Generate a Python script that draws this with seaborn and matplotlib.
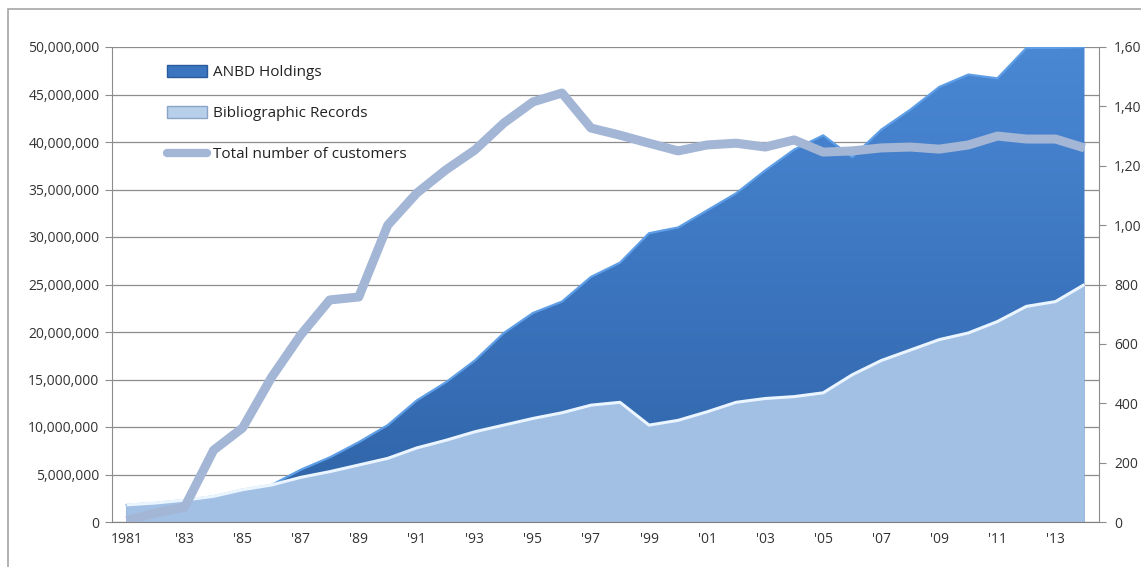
import numpy as np
import pandas as pd
import matplotlib
matplotlib.use("Agg")
import matplotlib.pyplot as plt
import seaborn as sns
from matplotlib.patches import Rectangle, Patch
from matplotlib.lines import Line2D
from matplotlib.ticker import FuncFormatter, MultipleLocator, FixedLocator
from matplotlib.colors import LinearSegmentedColormap

# ---------------- data ----------------
years = list(range(1981, 2015))
tick_labels = ["1981", "'83", "'85", "'87", "'89", "'91", "'93", "'95", "'97",
               "'99", "'01", "'03", "'05", "'07", "'09", "'11", "'13"]

bib_records = [1.8e6, 2.0e6, 2.3e6, 2.7e6, 3.4e6, 3.9e6, 4.7e6, 5.3e6, 6.0e6, 6.7e6,
               7.8e6, 8.6e6, 9.5e6, 10.2e6, 10.9e6, 11.5e6, 12.3e6, 12.6e6, 10.2e6, 10.7e6,
               11.6e6, 12.6e6, 13.0e6, 13.2e6, 13.6e6, 15.5e6, 17.0e6, 18.1e6, 19.2e6, 19.9e6,
               21.1e6, 22.7e6, 23.2e6, 25.0e6]

anbd_holdings = [1.8e6, 2.0e6, 2.3e6, 2.7e6, 3.4e6, 3.9e6, 5.5e6, 6.8e6, 8.4e6, 10.2e6,
                 12.8e6, 14.7e6, 17.0e6, 19.9e6, 22.0e6, 23.2e6, 25.8e6, 27.3e6, 30.4e6, 31.0e6,
                 32.8e6, 34.6e6, 37.0e6, 39.2e6, 40.7e6, 38.4e6, 41.3e6, 43.4e6, 45.8e6, 47.1e6,
                 46.7e6, 49.9e6, 49.9e6, 51.0e6]

customers = [5, 30, 50, 242, 317, 488, 630, 748, 758, 1000,
             1108, 1186, 1253, 1344, 1415, 1445, 1327, 1303, 1276, 1250,
             1270, 1276, 1263, 1287, 1246, 1250, 1260, 1263, 1256, 1270,
             1300, 1290, 1290, 1260]

df = pd.DataFrame({"year": years, "idx": np.arange(len(years)),
                   "anbd": anbd_holdings, "bib": bib_records, "cust": customers})

# ---------------- style ----------------
sns.set_style("white")
plt.rcParams["font.family"] = ["Open Sans", "DejaVu Sans"]

W, H = 1141, 567
fig = plt.figure(figsize=(W / 100, H / 100), dpi=100)
fig.patch.set_facecolor("white")

# outer chart frame (Excel chart area border)
fig.patches.append(Rectangle((8 / W, -0.1), 1.2, 1 - 9 / H + 0.1, transform=fig.transFigure,
                             fill=False, edgecolor="#A6A6A6", lw=1.2, zorder=0))

left, right, bottom, top = 112 / W, 1099 / W, 1 - 522 / H, 1 - 47 / H
ax = fig.add_axes([left, bottom, right - left, top - bottom])
ax.set_facecolor("none")

x = df["idx"].values
ymax = 50e6
ax.set_xlim(-0.5, 33.5)
ax.set_ylim(0, ymax)

# gridlines
ax.yaxis.set_major_locator(MultipleLocator(5e6))
ax.grid(axis="y", color="#8C8C8C", lw=0.9, zorder=0)
ax.grid(axis="x", visible=False)
ax.set_axisbelow(True)

# dark area (ANBD holdings) with vertical gradient
poly_dark = ax.fill_between(x, 0, np.minimum(df["anbd"].values, ymax), facecolor="none",
                            edgecolor="none", zorder=2)
grad = np.linspace(0, 1, 256).reshape(-1, 1)
cmap_dark = LinearSegmentedColormap.from_list("dk", ["#2F63A6", "#3C75BF", "#4A88D4"])
im = ax.imshow(grad, cmap=cmap_dark, aspect="auto", origin="lower",
               extent=(-0.5, 33.5, 0, ymax), zorder=2, interpolation="bicubic")
im.set_clip_path(poly_dark.get_paths()[0], transform=ax.transData)
ax.plot(x, np.minimum(df["anbd"].values, ymax), color="#5E9EE6", lw=1.6, zorder=3)

# light area (bibliographic records)
ax.fill_between(x, 0, df["bib"].values, facecolor="#A2BFE4", edgecolor="none", zorder=4)
ax.plot(x, df["bib"].values, color="#EAF5FF", lw=2.2, zorder=5, solid_capstyle="butt")

ax.set_xlim(-0.5, 33.5)
ax.set_ylim(0, ymax)

# axes styling
for s in ["top", "right"]:
    ax.spines[s].set_visible(False)
ax.spines["left"].set_color("#8C8C8C")
ax.spines["bottom"].set_color("#7F7F7F")
ax.spines["left"].set_zorder(6)
ax.spines["bottom"].set_zorder(6)

ax.yaxis.set_major_formatter(FuncFormatter(lambda v, p: f"{int(round(v)):,}"))
ax.tick_params(axis="y", which="major", direction="out", length=5, color="#8C8C8C",
               labelsize=10, labelcolor="#333333", pad=4)

ax.xaxis.set_major_locator(FixedLocator(np.arange(0, 34, 2)))
ax.set_xticklabels(tick_labels)
ax.xaxis.set_minor_locator(FixedLocator(np.arange(-0.5, 34, 1)))
ax.tick_params(axis="x", which="major", length=0, labelsize=10, labelcolor="#333333", pad=7)
ax.tick_params(axis="x", which="minor", direction="out", length=4, color="#8C8C8C")

# right axis: customers line
ax2 = ax.twinx()
ax2.set_ylim(0, 1600)
sns.lineplot(data=df, x="idx", y="cust", ax=ax2, color="#A3B6D6", lw=6.5,
             solid_capstyle="butt", legend=False, zorder=7)
ax2.set_xlim(-0.5, 33.5)
ax2.set_ylabel("")
ax2.set_xlabel("")
ax.set_xlabel("")
ax.set_ylabel("")
ax2.yaxis.set_major_locator(MultipleLocator(200))
ax2.yaxis.set_major_formatter(FuncFormatter(lambda v, p: f"{int(round(v)):,}"))
ax2.tick_params(axis="y", direction="out", length=5, color="#8C8C8C",
                labelsize=10, labelcolor="#333333", pad=6)
for s in ["top", "left", "bottom"]:
    ax2.spines[s].set_visible(False)
ax2.spines["right"].set_color("#8C8C8C")
ax2.grid(False)

# legend
handles = [Patch(facecolor="#3C75BF", edgecolor="#2A5A9A"),
           Patch(facecolor="#B8CFEA", edgecolor="#8AA4C8"),
           Line2D([0], [0], color="#A3B6D6", lw=6)]
labels = ["ANBD Holdings", "Bibliographic Records", "Total number of customers"]
leg = ax2.legend(handles, labels, loc="upper left", bbox_to_anchor=(0.05, 0.975),
                 frameon=False, fontsize=11, handlelength=2.6, handleheight=0.8,
                 labelspacing=1.7, handletextpad=0.4, borderaxespad=0)
for t in leg.get_texts():
    t.set_color("#222222")

fig.savefig("out.png", dpi=100, facecolor="white")
